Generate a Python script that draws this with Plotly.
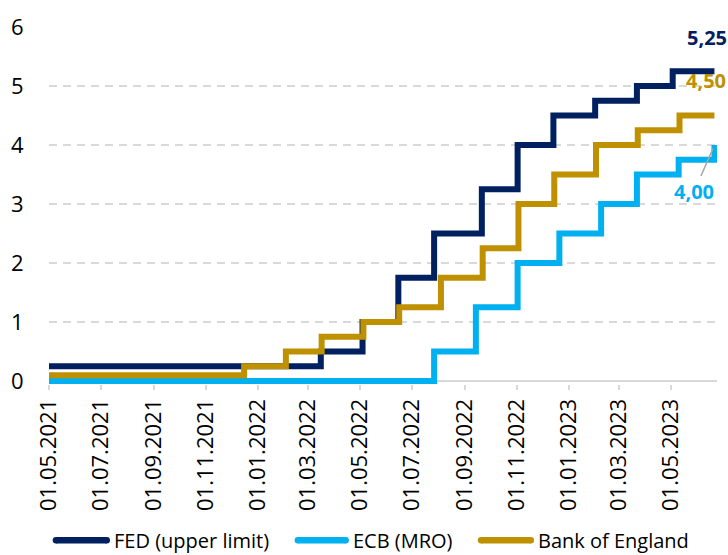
import plotly.graph_objects as go

# Policy rate decisions (step changes), in percent
end_date = "2023-06-21"

fed_dates = ["2021-05-01", "2022-03-16", "2022-05-04", "2022-06-15", "2022-07-27",
             "2022-09-21", "2022-11-02", "2022-12-14", "2023-02-01", "2023-03-22",
             "2023-05-03", end_date]
fed_rates = [0.25, 0.50, 1.00, 1.75, 2.50, 3.25, 4.00, 4.50, 4.75, 5.00, 5.25, 5.25]

ecb_dates = ["2021-05-01", "2022-07-27", "2022-09-14", "2022-11-02", "2022-12-21",
             "2023-02-08", "2023-03-22", "2023-05-10", "2023-06-20", end_date]
ecb_rates = [0.00, 0.50, 1.25, 2.00, 2.50, 3.00, 3.50, 3.75, 3.75, 4.00]

boe_dates = ["2021-05-01", "2021-12-16", "2022-02-03", "2022-03-17", "2022-05-05",
             "2022-06-16", "2022-08-04", "2022-09-22", "2022-11-03", "2022-12-15",
             "2023-02-02", "2023-03-23", "2023-05-11", end_date]
boe_rates = [0.10, 0.25, 0.50, 0.75, 1.00, 1.25, 1.75, 2.25, 3.00, 3.50, 4.00,
             4.25, 4.50, 4.50]

tick_dates = ["2021-05-01", "2021-07-01", "2021-09-01", "2021-11-01", "2022-01-01",
              "2022-03-01", "2022-05-01", "2022-07-01", "2022-09-01", "2022-11-01",
              "2023-01-01", "2023-03-01", "2023-05-01"]
tick_labels = [f"{d[8:10]}.{d[5:7]}.{d[0:4]}" for d in tick_dates]

series_names = ["FED (upper limit)", "ECB (MRO)", "Bank of England"]

NAVY = "#002060"
SKY = "#00B0F0"
GOLD = "#BF9000"
FONT = "Open Sans"

# plot-area geometry (pixels) used for the hand-drawn legend
W, H = 728, 555
ML, MR, MT, MB = 46, 11, 23, 171
PW, PH = W - ML - MR, H - MT - MB


def px_x(px):
    return (px - ML) / PW


def px_y(py):
    return (H - MB - py) / PH


fig = go.Figure()
for name, xs, ys, col in zip(series_names,
                             [fed_dates, ecb_dates, boe_dates],
                             [fed_rates, ecb_rates, boe_rates],
                             [NAVY, SKY, GOLD]):
    fig.add_trace(go.Scatter(
        x=xs, y=ys, name=name, mode="lines", showlegend=False,
        line=dict(color=col, width=6, shape="hv"),
    ))

# End-value labels
fig.add_annotation(x=end_date, y=fed_rates[-1], text="<b>5,25</b>", showarrow=False,
                   xanchor="left", yanchor="middle", xshift=-29, yshift=34,
                   font=dict(family=FONT, size=20, color=NAVY))
fig.add_annotation(x=end_date, y=boe_rates[-1], text="<b>4,50</b>", showarrow=False,
                   xanchor="left", yanchor="middle", xshift=-30, yshift=35,
                   font=dict(family=FONT, size=20, color=GOLD))
fig.add_annotation(x=end_date, y=ecb_rates[-1], text="<b>4,00</b>", showarrow=True,
                   arrowhead=0, arrowwidth=1.5, arrowcolor="#A6A6A6",
                   ax=-20, ay=46, standoff=4,
                   font=dict(family=FONT, size=20, color=SKY))

# Legend drawn below the axis: line sample with rounded ends + label
legend_y = 542
legend_items = [(50, 107, NAVY), (293, 347, SKY), (477, 533, GOLD)]
for (x0, x1, col), name in zip(legend_items, series_names):
    fig.add_shape(type="line", xref="paper", yref="paper",
                  x0=px_x(x0 + 3), x1=px_x(x1 - 3),
                  y0=px_y(legend_y), y1=px_y(legend_y),
                  line=dict(color=col, width=6.5))
    for cx in (x0 + 3, x1 - 3):
        fig.add_shape(type="circle", xref="paper", yref="paper",
                      xsizemode="pixel", ysizemode="pixel",
                      xanchor=px_x(cx), yanchor=px_y(legend_y),
                      x0=-3.25, x1=3.25, y0=-3.25, y1=3.25,
                      line=dict(width=0), fillcolor=col)
    fig.add_annotation(xref="paper", yref="paper", x=px_x(x1 + 2), y=px_y(legend_y),
                       text=name, showarrow=False, xanchor="left", yanchor="middle",
                       font=dict(family=FONT, size=20, color="#000000"))

fig.update_layout(
    width=W, height=H,
    margin=dict(l=ML, r=MR, t=MT, b=MB),
    paper_bgcolor="white", plot_bgcolor="white",
    font=dict(family=FONT, size=20, color="#000000"),
    showlegend=False,
)

fig.update_xaxes(
    type="date",
    range=["2021-05-01", "2023-06-24"],
    tickmode="array", tickvals=tick_dates, ticktext=tick_labels,
    tickangle=-90, tickfont=dict(family=FONT, size=22, color="#000000"),
    ticks="outside", ticklen=5, tickcolor="#D9D9D9", tickwidth=1.5,
    showgrid=False, showline=False, zeroline=False,
)
fig.update_yaxes(
    range=[-0.05, 6.0],
    tickvals=[0, 1, 2, 3, 4, 5, 6],
    tickfont=dict(family=FONT, size=22, color="#000000"),
    ticks="outside", ticklen=20, tickcolor="rgba(0,0,0,0)",
    showgrid=True, gridcolor="#D9D9D9", gridwidth=1.5, griddash="8px,6px",
    zeroline=True, zerolinecolor="#D9D9D9", zerolinewidth=1.5,
    showline=False,
)

fig.write_html("out.html")
